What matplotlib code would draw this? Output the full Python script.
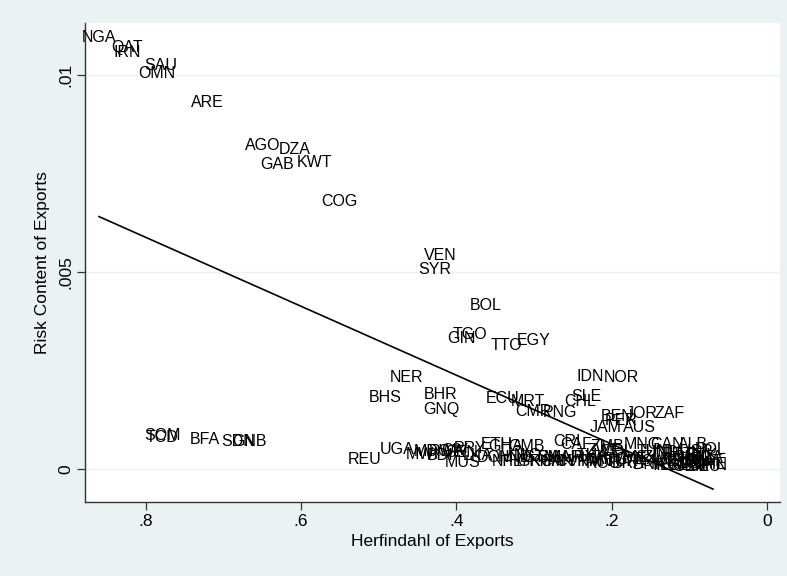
import matplotlib
matplotlib.use("Agg")
import matplotlib.pyplot as plt
import numpy as np

plt.rcParams['font.family'] = ['Liberation Sans', 'DejaVu Sans']

# country codes, export concentration (Herfindahl) and risk content of exports
countries = [
    "NGA", "QAT", "IRN", "SAU", "OMN", "ARE", "AGO", "DZA", "GAB", "KWT", "COG",
    "VEN", "SYR", "BOL", "TGO", "GIN", "TTO", "EGY", "NER", "BHS", "BHR", "GNQ",
    "ECU", "MRT", "CMR", "PNG", "SLE", "CHL", "IDN", "NOR", "BEN", "PER", "JOR",
    "ZAF", "JAM", "AUS", "SOM", "TCD", "BFA", "SDN", "GNB", "REU", "UGA",
    "MWI", "MDG", "BDI", "RWA", "CIV", "SEN", "MUS", "PRY", "LKA", "ETH", "GHA",
    "GMB", "DOM", "NPL", "HND", "HTI", "NIC", "GRC", "GTM", "KHM", "SLV", "PAK",
    "CRI", "CAF", "MAR", "CYP", "URY", "VNM", "THA", "PAN", "ZMB", "ZWE", "COL",
    "ARG", "ROU", "TUR", "MYS", "BRA", "MEX", "MNG", "CAN", "ALB", "TUN", "IND",
    "NZL", "DNK", "SWE", "PRT", "FIN", "IRL", "HUN", "CZE", "ESP", "KOR", "CHN",
    "BEL", "GBR", "NLD", "ISR", "SVK", "POL", "FRA", "USA", "AUT", "ITA", "CHE",
    "DEU", "JPN",
]
herfindahl = [
    0.860, 0.824, 0.824, 0.780, 0.786, 0.720, 0.649, 0.608, 0.630, 0.582, 0.551,
    0.420, 0.428, 0.362, 0.382, 0.393, 0.335, 0.300, 0.464, 0.491, 0.420, 0.419,
    0.340, 0.308, 0.300, 0.267, 0.232, 0.241, 0.227, 0.188, 0.193, 0.188, 0.161,
    0.126, 0.207, 0.164, 0.778, 0.779, 0.724, 0.681, 0.666, 0.518, 0.476,
    0.444, 0.431, 0.421, 0.412, 0.402, 0.393, 0.392, 0.382, 0.372, 0.348, 0.336,
    0.309, 0.350, 0.334, 0.325, 0.316, 0.308, 0.299, 0.292, 0.283, 0.277, 0.269,
    0.258, 0.245, 0.259, 0.251, 0.241, 0.233, 0.225, 0.220, 0.205, 0.210, 0.193,
    0.200, 0.210, 0.187, 0.176, 0.179, 0.164, 0.160, 0.129, 0.095, 0.147, 0.131,
    0.153, 0.151, 0.138, 0.115, 0.122, 0.131, 0.104, 0.112, 0.118, 0.107, 0.099,
    0.091, 0.099, 0.103, 0.086, 0.084, 0.072, 0.086, 0.091, 0.077, 0.071, 0.073,
    0.080, 0.0695,
]
risk = [
    0.01094, 0.01069, 0.01058, 0.01025, 0.01003, 0.00931, 0.00822, 0.00812, 0.00774, 0.00777, 0.00680,
    0.00541, 0.00505, 0.00414, 0.00340, 0.00330, 0.00312, 0.00325, 0.00231, 0.00180, 0.00190, 0.00152,
    0.00178, 0.00170, 0.00145, 0.00142, 0.00183, 0.00170, 0.00234, 0.00231, 0.00132, 0.00124, 0.00140,
    0.00140, 0.00104, 0.00104, 0.00086, 0.00079, 0.00074, 0.00069, 0.00069, 0.00025, 0.00048,
    0.00036, 0.00043, 0.00033, 0.00043, 0.00046, 0.00041, 0.00015, 0.00053, 0.00033, 0.00061, 0.00056,
    0.00056, 0.00028, 0.00018, 0.00030, 0.00020, 0.00033, 0.00018, 0.00030, 0.00020, 0.00030, 0.00020,
    0.00069, 0.00061, 0.00030, 0.00018, 0.00030, 0.00020, 0.00033, 0.00018, 0.00056, 0.00046, 0.00043,
    0.00025, 0.00013, 0.00020, 0.00030, 0.00013, 0.00023, 0.00063, 0.00063, 0.00063, 0.00043, 0.00041,
    0.00030, 0.00010, 0.00018, 0.00036, 0.00025, 0.00008, 0.00038, 0.00020, 0.00008, 0.00013, 0.00028,
    0.00025, 0.00005, 0.00008, 0.00043, 0.00033, 0.00048, 0.00018, 0.00013, 0.00020, 0.00030, 0.00010,
    0.00005, 0.00008,
]

# linear fit (intercept, slope)
fit_intercept = -0.00112
fit_slope = 0.00875

xticks = [0.8, 0.6, 0.4, 0.2, 0.0]
xticklabels = [".8", ".6", ".4", ".2", "0"]
yticks = [0.0, 0.005, 0.01]
yticklabels = ["0", ".005", ".01"]

bg = "#eaf2f3"
fig = plt.figure(figsize=(7.87, 5.76), dpi=100, facecolor=bg)
ax = fig.add_axes([0.108, 0.1285, 0.883, 0.8316])
ax.set_facecolor("white")

for c, x, y in zip(countries, herfindahl, risk):
    ax.text(x, y, c, ha="center", va="center", fontsize=11.5, color="black")

xs = np.array([min(herfindahl), max(herfindahl)])
ax.plot(xs, fit_intercept + fit_slope * xs, color="black", lw=1.2)

ax.set_xlim(0.878, -0.0167)
ax.set_ylim(-0.00084, 0.01132)
ax.set_xticks(xticks)
ax.set_xticklabels(xticklabels)
ax.set_yticks(yticks)
ax.set_yticklabels(yticklabels, rotation=90, va="center")

ax.grid(axis="y", color=bg, lw=1.0)
ax.set_axisbelow(True)
for s in ["top", "right"]:
    ax.spines[s].set_visible(False)
for s in ["left", "bottom"]:
    ax.spines[s].set_color("#333333")
    ax.spines[s].set_linewidth(1.0)
ax.tick_params(direction="out", length=5.5, width=0.9, color="#333333",
               labelsize=12.5, pad=3)

ax.set_xlabel("Herfindahl of Exports", fontsize=12.5, labelpad=4)
ax.set_ylabel("Risk Content of Exports", fontsize=12.5, labelpad=6)

fig.savefig("out.png", dpi=100, facecolor=bg)
